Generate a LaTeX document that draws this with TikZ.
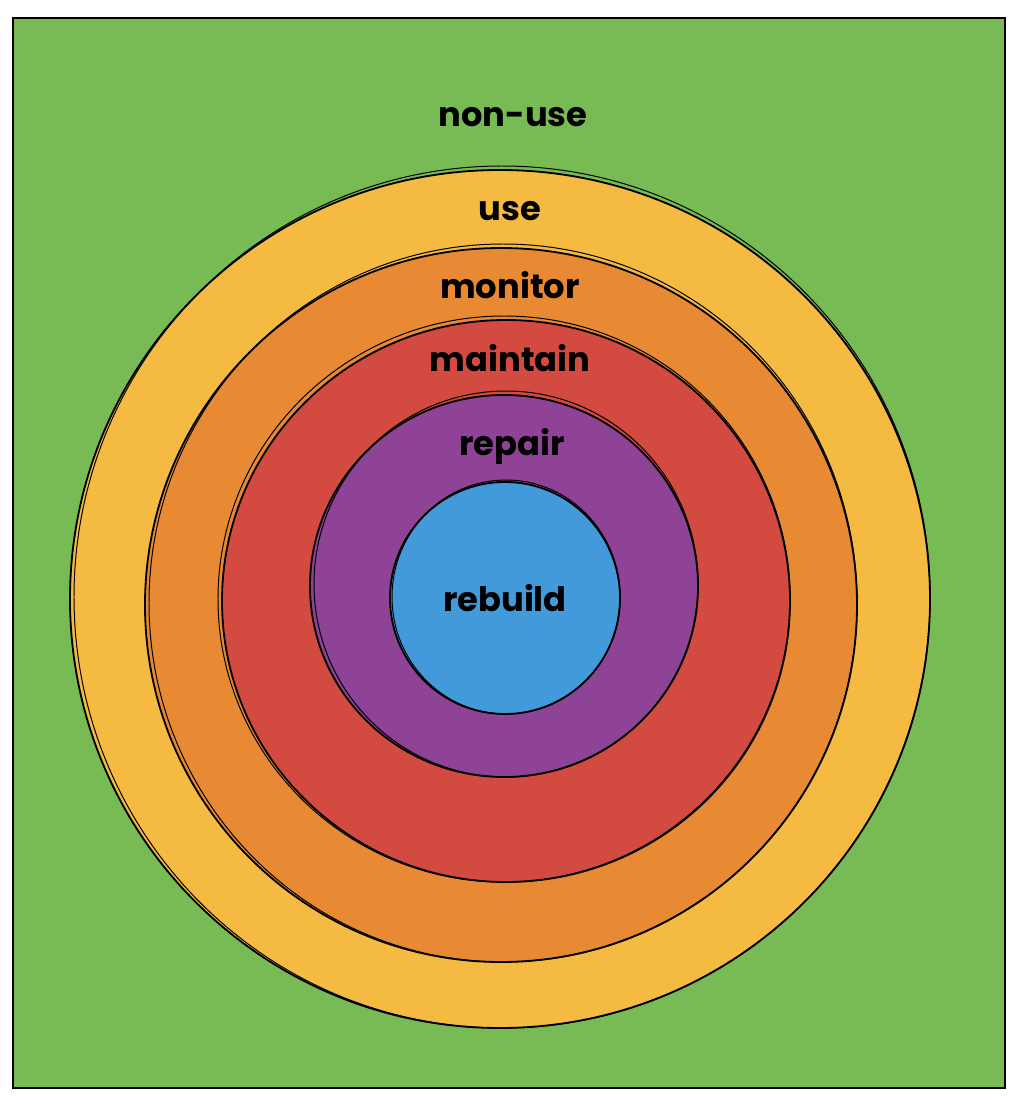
\documentclass[tikz,border=0pt]{standalone}
\usepackage{fontspec}
\setmainfont{Poppins}
\usepackage{tikz}

\definecolor{nonusegreen}{HTML}{78BB55}
\definecolor{useyellow}{HTML}{F5BA42}
\definecolor{monitororange}{HTML}{E88A33}
\definecolor{maintainred}{HTML}{D34A40}
\definecolor{repairpurple}{HTML}{8E4396}
\definecolor{rebuildblue}{HTML}{429ADB}

\begin{document}
\begin{tikzpicture}[
    x=0.025cm, y=-0.025cm,
    ring/.style={draw=black, line width=1.3pt},
    sketch/.style={draw=black, line width=0.7pt},
    lbl/.style={font=\fontsize{24}{28}\selectfont\bfseries, text=black, inner sep=0pt},
  ]
  \useasboundingbox (0,0) rectangle (1020,1104);

  % Background field
  \fill[nonusegreen] (13,18) rectangle (1005,1088);
  \draw[line width=1.6pt] (13,18) rectangle (1005,1088);

  % Rings, outermost first
  \filldraw[fill=useyellow, ring]      (500,599) ellipse [x radius=430, y radius=429];
  \draw[sketch] (502,597) ellipse [x radius=428, y radius=431];
  \filldraw[fill=monitororange, ring]  (501,605) ellipse [x radius=356, y radius=357];
  \draw[sketch] (503,603) ellipse [x radius=354, y radius=359];
  \filldraw[fill=maintainred, ring]    (506,601) ellipse [x radius=284, y radius=281];
  \draw[sketch] (504,599) ellipse [x radius=286, y radius=283];
  \filldraw[fill=repairpurple, ring]   (504,586) ellipse [x radius=194, y radius=191];
  \draw[sketch] (506,584) ellipse [x radius=192, y radius=193];
  \filldraw[fill=rebuildblue, ring]    (505,598) ellipse [x radius=115, y radius=116];
  \draw[sketch] (506,597) ellipse [x radius=114, y radius=117];

  % Labels
  \node[lbl] (nonuse)   at (513,117) {non-use};
  \node[lbl] (use)      at (510,211) {use};
  \node[lbl] (monitor)  at (510,285) {monitor};
  \node[lbl] (maintain) at (510,358) {maintain};
  \node[lbl] (repair)   at (512,446) {repair};
  \node[lbl] (rebuild)  at (505,598) {rebuild};
\end{tikzpicture}
\end{document}
